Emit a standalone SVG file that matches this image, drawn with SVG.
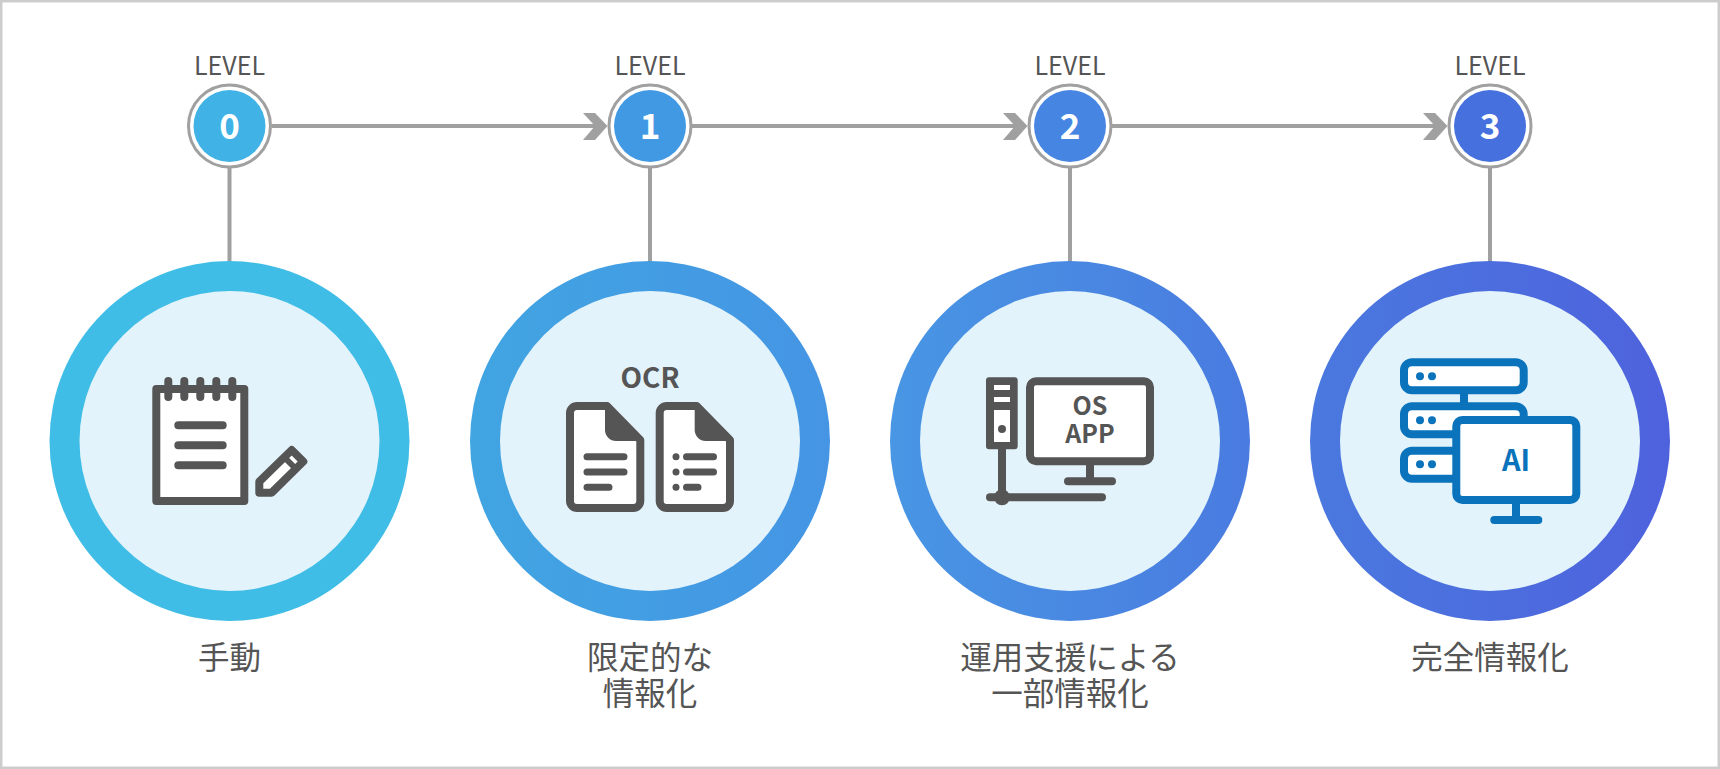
<svg xmlns="http://www.w3.org/2000/svg" width="1720" height="769" viewBox="0 0 1720 769">
<style>
text{font-family:"Noto Sans CJK JP","Noto Sans",sans-serif;text-anchor:middle}
.lv{font-size:25px;fill:#555}
.num{font-size:35px;font-weight:700;fill:#fff}
.lab{font-size:31.500px;fill:#555}
.ic{font-size:28px;font-weight:700;fill:#555}
.ic2{font-size:25px;font-weight:700;fill:#555}
.ai{font-size:29px;font-weight:700;fill:#0a73bb}
.ring{fill:#fff;stroke:#a0a0a0;stroke-width:3}
.inner{fill:#e3f3fb}
.conn{stroke:#a0a0a0;stroke-width:4;fill:none}
.d{stroke:#555;stroke-width:8;fill:#fff;stroke-linejoin:round;stroke-linecap:round}
.dl{stroke:#555;stroke-width:8;fill:none;stroke-linecap:round}
.dm{stroke:#555;stroke-width:7;fill:none;stroke-linecap:round}
.b{stroke:#0a73bb;stroke-width:8;fill:#fff}
.bl{stroke:#0a73bb;stroke-width:8;fill:none;stroke-linecap:round}
.bd{fill:#0a73bb}
.df{fill:#555}
.wf{fill:#fff}
</style>
<defs>
<linearGradient id="g1" x1="0" x2="1" y1="0" y2="0"><stop offset="0" stop-color="#41a5e2"/><stop offset="1" stop-color="#4595e4"/></linearGradient>
<linearGradient id="g2" x1="0" x2="1" y1="0" y2="0"><stop offset="0" stop-color="#4896e4"/><stop offset="1" stop-color="#4a7be0"/></linearGradient>
<linearGradient id="g3" x1="0" x2="1" y1="0" y2="0"><stop offset="0" stop-color="#4a79df"/><stop offset="1" stop-color="#4e62dd"/></linearGradient>
<g id="doc">
<path class="d" d="M577 406H607L640.300 440V501A7 7 0 0 1 633.300 508H577A7 7 0 0 1 570 501V413A7 7 0 0 1 577 406Z"/>
<path class="df" d="M605 406H610L644 441H616A11 11 0 0 1 605 430Z"/>
</g>
<path id="arrow" style="fill:#a0a0a0" d="M0 0H12L24.500 13L12 27H0L12 13Z"/>
</defs>
<rect x="1.200" y="1.200" width="1717.600" height="766.600" fill="#fff" stroke="#ccc" stroke-width="2.500"/>
<g id="connectors">
<path class="conn" d="M272 126H597"/>
<path class="conn" d="M692 126H1017"/>
<path class="conn" d="M1112 126H1437"/>
<path class="conn" d="M229.500 168V262"/>
<path class="conn" d="M650 168V262"/>
<path class="conn" d="M1070 168V262"/>
<path class="conn" d="M1490 168V262"/>
<use href="#arrow" x="583" y="113"/>
<use href="#arrow" x="1003" y="113"/>
<use href="#arrow" x="1423" y="113"/>
</g>
<g id="level0">
<text class="lv" x="229.500" y="75">LEVEL</text>
<circle class="ring" cx="229.500" cy="126" r="41"/>
<circle cx="229.500" cy="126" r="36" fill="#41b2e6"/>
<text class="num" x="229.500" y="139">0</text>
</g>
<g id="level1">
<text class="lv" x="650" y="75">LEVEL</text>
<circle class="ring" cx="650" cy="126" r="41"/>
<circle cx="650" cy="126" r="36" fill="#4299e3"/>
<text class="num" x="650" y="139">1</text>
</g>
<g id="level2">
<text class="lv" x="1070" y="75">LEVEL</text>
<circle class="ring" cx="1070" cy="126" r="41"/>
<circle cx="1070" cy="126" r="36" fill="#4686e2"/>
<text class="num" x="1070" y="139">2</text>
</g>
<g id="level3">
<text class="lv" x="1490" y="75">LEVEL</text>
<circle class="ring" cx="1490" cy="126" r="41"/>
<circle cx="1490" cy="126" r="36" fill="#4570de"/>
<text class="num" x="1490" y="139">3</text>
</g>
<g id="node0">
<circle cx="229.500" cy="441" r="180" fill="#3fbde6"/>
<circle class="inner" cx="229.500" cy="441" r="150"/>
<rect class="d" x="156.300" y="389" width="88" height="112"/>
<path class="dl" d="M168.300 381V397M184.300 381V397M200.300 381V397M216.300 381V397M232.300 381V397"/>
<path class="dl" d="M178.300 425.300H222.700M178.300 445.300H222.700M178.300 465.300H222.700"/>
<path class="d" d="M259.300 481.700L291.700 450L303.300 461.500L271.700 492.700H259.300Z"/>
<path d="M284.500 457.500L296.500 469.500" stroke="#555" stroke-width="6"/>
</g>
<g id="node1">
<circle cx="650" cy="441" r="180" fill="url(#g1)"/>
<circle class="inner" cx="650" cy="441" r="150"/>
<text class="ic" x="650" y="388">OCR</text>
<use href="#doc"/>
<use href="#doc" x="89.700"/>
<path class="dm" d="M587 456.700H624M587 472H624M587 487.300H609"/>
<path class="dm" d="M686.500 456.700H713.500M686.500 472H713.500M686.500 487.300H698"/>
<circle class="df" cx="676" cy="456.700" r="3.500"/><circle class="df" cx="676" cy="472" r="3.500"/><circle class="df" cx="676" cy="487.300" r="3.500"/>
</g>
<g id="node2">
<circle cx="1070" cy="441" r="180" fill="url(#g2)"/>
<circle class="inner" cx="1070" cy="441" r="150"/>
<rect class="df" x="986" y="377.300" width="31.700" height="72" rx="3"/>
<rect class="wf" x="994" y="385" width="16" height="5"/>
<rect class="wf" x="994" y="397" width="16" height="5"/>
<rect class="wf" x="994" y="410" width="16" height="32"/>
<circle class="df" cx="1002" cy="429" r="4"/>
<path class="dl" d="M1002 449V497.300M990 497.300H1102"/>
<circle class="df" cx="1002" cy="497.300" r="8"/>
<rect class="d" x="1030" y="381.300" width="120" height="80" rx="6"/>
<path class="dl" d="M1090 465V481.300M1068 481.300H1112"/>
<text class="ic2"><tspan x="1090" y="415">OS</tspan><tspan x="1090" y="443">APP</tspan></text>
</g>
<g id="node3">
<circle cx="1490" cy="441" r="180" fill="url(#g3)"/>
<circle class="inner" cx="1490" cy="441" r="150"/>
<path class="bl" d="M1464 394V403M1464 438V447"/>
<rect class="b" x="1404" y="362.300" width="119.700" height="28" rx="8"/>
<rect class="b" x="1404" y="406.300" width="119.700" height="28" rx="8"/>
<rect class="b" x="1404" y="450.700" width="119.700" height="28" rx="8"/>
<circle class="bd" cx="1420" cy="376.300" r="4"/><circle class="bd" cx="1432" cy="376.300" r="4"/>
<circle class="bd" cx="1420" cy="420.300" r="4"/><circle class="bd" cx="1432" cy="420.300" r="4"/>
<circle class="bd" cx="1420" cy="464.300" r="4"/><circle class="bd" cx="1432" cy="464.300" r="4"/>
<rect class="b" x="1456.300" y="420" width="120" height="80" rx="6"/>
<path class="bl" d="M1516 504V520M1494.300 520H1538.300"/>
<text class="ai" x="1516" y="471">AI</text>
</g>
<g id="labels">
<text class="lab" x="229.500" y="669">手動</text>
<text class="lab"><tspan x="650" y="669">限定的な</tspan><tspan x="650" y="704.500">情報化</tspan></text>
<text class="lab"><tspan x="1070" y="669">運用支援による</tspan><tspan x="1070" y="704.500">一部情報化</tspan></text>
<text class="lab" x="1490" y="669">完全情報化</text>
</g>
</svg>
